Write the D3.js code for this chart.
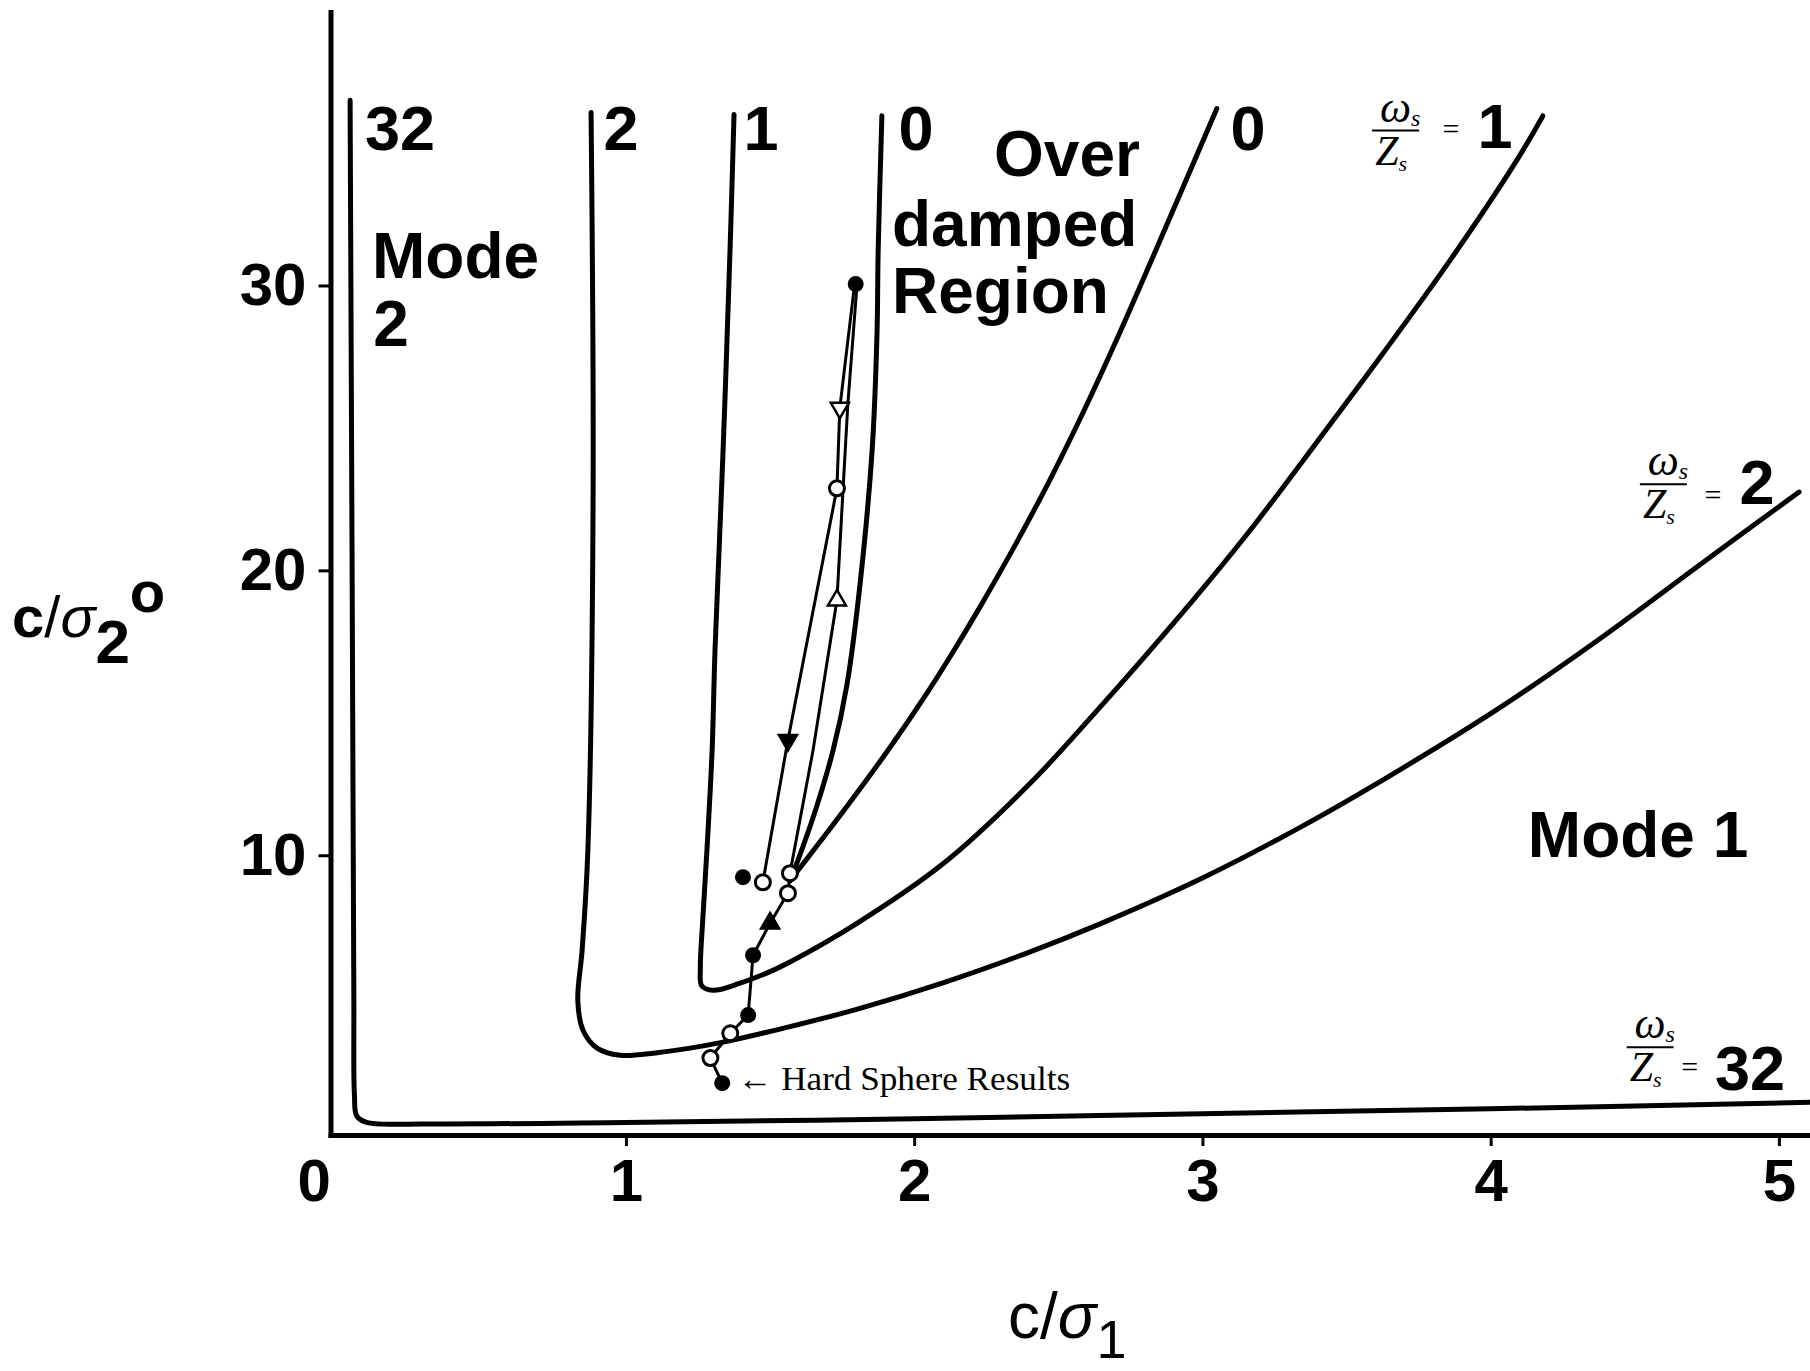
<!DOCTYPE html>
<html>
<head>
<meta charset="utf-8">
<script src="https://cdn.jsdelivr.net/npm/d3@7"></script>
<style>
  body { margin: 0; background: #fff; }
  svg { display: block; }
  text { font-family: "Liberation Sans", Arial, Helvetica, sans-serif; fill: #000; }
</style>
</head>
<body>
<svg id="chart" width="1810" height="1371"></svg>
<script>
// boundary curves, one for each omega_s/Z_s value  [c/sigma1, c/sigma2]
var curve32 = [[0.043, 36.5], [0.05, 20], [0.056, 5], [0.058, 1.6], [0.066, 0.85], [0.1, 0.62], [0.3, 0.57],
  [1.0, 0.62], [2.0, 0.75], [3.0, 0.93], [4.0, 1.1], [5.11, 1.33]];
var curve2 = [[0.879, 36.07], [0.886, 22.5], [0.868, 10.2], [0.848, 6.67], [0.833, 4.9], [0.851, 3.86], [0.90, 3.23],
  [0.98, 2.98], [1.108, 3.07], [1.222, 3.23], [1.337, 3.44], [1.559, 3.96], [1.8, 4.59], [2.1, 5.52], [2.4, 6.6],
  [2.645, 7.59], [3.0, 9.2], [3.339, 10.98], [3.685, 13.0], [4.032, 15.18], [4.379, 17.6], [4.726, 20.2], [5.07, 22.75]];
var curve1 = [[1.375, 36.0], [1.361, 31.2], [1.337, 24.2], [1.309, 17.2], [1.299, 13.7], [1.281, 10.18], [1.267, 7.82],
  [1.258, 6.0], [1.263, 5.42], [1.302, 5.26], [1.396, 5.51], [1.51, 5.96], [1.569, 6.25], [1.8, 7.6], [2.1, 9.7],
  [2.4, 12.5], [2.645, 15.2], [2.967, 18.95], [3.165, 21.4], [3.397, 24.5], [3.626, 27.61], [3.859, 30.88],
  [4.091, 34.4], [4.181, 35.95]];
var curve0Left = [[1.888, 35.96], [1.875, 31.2], [1.871, 28.3], [1.854, 24.2], [1.812, 19.5], [1.767, 16.0],
  [1.719, 13.7], [1.655, 11.5], [1.594, 9.75], [1.569, 9.1]];
var curve0Right = [[1.569, 9.1], [1.75, 11.49], [1.916, 13.78], [2.03, 15.47], [2.124, 16.96], [2.228, 18.71],
  [2.357, 21.01], [2.471, 23.18], [2.586, 25.54], [2.703, 28.11], [2.818, 30.76], [2.933, 33.46], [3.05, 36.21]];

// simulation tracks
var trackDown = [[1.794, 30.1], [1.742, 25.7], [1.732, 22.88], [1.562, 14.04], [1.475, 9.05]];
var trackUp = [[1.801, 29.93], [1.770, 25.86], [1.753, 22.81], [1.732, 18.95], [1.649, 13.68], [1.569, 9.37],
  [1.562, 8.67], [1.5, 7.61], [1.441, 6.49], [1.424, 4.39], [1.362, 3.75], [1.293, 2.88], [1.334, 2.0]];

var filledDots = [[1.797, 30.05], [1.406, 9.23], [1.441, 6.49], [1.424, 4.39], [1.334, 2.0]];
var openDots = [[1.732, 22.88], [1.475, 9.05], [1.569, 9.37], [1.562, 8.67], [1.362, 3.75], [1.293, 2.88]];
var triDownOpen = [[1.742, 25.7]];
var triDownFilled = [[1.562, 14.04]];
var triUpOpen = [[1.732, 18.95]];
var triUpFilled = [[1.5, 7.61]];

var xTicks = [0, 1, 2, 3, 4, 5];
var yTicks = [10, 20, 30];

// curve labels along the top, region labels
var topLabels = [["32", 0.216, 34.77], ["2", 0.983, 34.77], ["1", 1.469, 34.77], ["0", 2.006, 34.77], ["0", 3.158, 34.77]];
var regionLabels = [["Mode", 0.119, 30.25], ["2", 0.123, 27.89], ["Over", 2.277, 33.86], ["damped", 1.923, 31.4],
  ["Region", 1.923, 29.05], ["Mode 1", 4.129, 9.93]];
// omega_s/Z_s = n labels: fraction bar, "=" sign, number
var fracLabels = [
  {n: "1", bar: [3.672, 35.44], eq: [3.862, 35.51], num: [4.015, 34.84]},
  {n: "2", bar: [4.601, 23.02], eq: [4.771, 22.67], num: [4.924, 22.32]},
  {n: "32", bar: [4.555, 3.26], eq: [4.691, 2.6], num: [4.9, 1.75]}
];
var noteHardSphere = [1.386, 1.75, 2.541];

var svg = d3.select("#chart");
var x = d3.scaleLinear().domain([-0.025, 5.11]).range([330.5, 1810.6]);
var y = d3.scaleLinear().domain([0.18, 39.6]).range([1135, 12]);

// axes
var gx = svg.append("g")
  .attr("transform", "translate(0," + y(0.18) + ")")
  .call(d3.axisBottom(x).tickValues(xTicks).tickSize(11).tickSizeOuter(0).tickPadding(12).tickFormat(d3.format("d")));
var gy = svg.append("g")
  .attr("transform", "translate(" + x(-0.025) + ",0)")
  .call(d3.axisLeft(y).tickValues(yTicks).tickSize(12).tickSizeOuter(0).tickPadding(12));

[gx, gy].forEach(function(g) {
  g.select(".domain").attr("stroke", "#000").attr("stroke-width", 5).attr("stroke-linecap", "square");
  g.selectAll(".tick line").attr("stroke", "#000").attr("stroke-width", 3);
  g.selectAll(".tick text").style("font-size", "60px").style("font-weight", "bold")
    .style("font-family", "'Liberation Sans', Arial, sans-serif").attr("fill", "#000");
});
// the 0 label sits left of the corner, no tick mark there
gx.selectAll(".tick").filter(function(d) { return d === 0; })
  .call(function(t) { t.select("line").remove(); t.select("text").attr("x", -24); });

// curves
var line = d3.line().x(function(d) { return x(d[0]); }).y(function(d) { return y(d[1]); })
  .curve(d3.curveCatmullRom.alpha(0.5));
[curve32, curve2, curve1, curve0Left, curve0Right].forEach(function(c) {
  svg.append("path").attr("d", line(c)).attr("fill", "none").attr("stroke", "#000")
    .attr("stroke-width", 5).attr("stroke-linejoin", "round").attr("stroke-linecap", "round");
});

// tracks
var straight = d3.line().x(function(d) { return x(d[0]); }).y(function(d) { return y(d[1]); });
[trackDown, trackUp].forEach(function(t) {
  svg.append("path").attr("d", straight(t)).attr("fill", "none").attr("stroke", "#000").attr("stroke-width", 3);
});

svg.append("g").selectAll("circle").data(filledDots).enter().append("circle")
  .attr("cx", function(d) { return x(d[0]); }).attr("cy", function(d) { return y(d[1]); })
  .attr("r", 8).attr("fill", "#000");
svg.append("g").selectAll("circle").data(openDots).enter().append("circle")
  .attr("cx", function(d) { return x(d[0]); }).attr("cy", function(d) { return y(d[1]); })
  .attr("r", 7.5).attr("fill", "#fff").attr("stroke", "#000").attr("stroke-width", 3);

var tri = d3.symbol().type(d3.symbolTriangle).size(140);
function triangles(data, down, filled) {
  svg.append("g").selectAll("path").data(data).enter().append("path")
    .attr("d", tri)
    .attr("transform", function(d) { return "translate(" + x(d[0]) + "," + y(d[1]) + ")" + (down ? " rotate(180)" : ""); })
    .attr("fill", filled ? "#000" : "#fff").attr("stroke", "#000").attr("stroke-width", 2.5);
}
triangles(triDownOpen, true, false);
triangles(triDownFilled, true, true);
triangles(triUpOpen, false, false);
triangles(triUpFilled, false, true);

// labels
svg.append("g").selectAll("text").data(topLabels).enter().append("text")
  .attr("x", function(d) { return x(d[1]); }).attr("y", function(d) { return y(d[2]); })
  .attr("text-anchor", "middle").style("font-size", "63px").style("font-weight", "bold")
  .text(function(d) { return d[0]; });
svg.append("g").selectAll("text").data(regionLabels).enter().append("text")
  .attr("x", function(d) { return x(d[1]); }).attr("y", function(d) { return y(d[2]); })
  .style("font-size", "64px").style("font-weight", "bold")
  .text(function(d) { return d[0]; });

var hand = "'Liberation Serif', 'DejaVu Serif', serif";
fracLabels.forEach(function(f) {
  var g = svg.append("g").attr("transform", "translate(" + x(f.bar[0]) + "," + y(f.bar[1]) + ")");
  g.append("line").attr("x1", -24).attr("x2", 23).attr("stroke", "#000").attr("stroke-width", 2);
  var w = g.append("text").attr("x", 4).attr("y", -9).attr("text-anchor", "middle")
    .style("font-family", hand).style("font-style", "italic").style("font-size", "44px");
  w.append("tspan").text("ω");
  w.append("tspan").attr("dy", 4).style("font-size", "24px").text("s");
  var z = g.append("text").attr("x", -5).attr("y", 34).attr("text-anchor", "middle")
    .style("font-family", hand).style("font-style", "italic").style("font-size", "42px");
  z.append("tspan").text("Z");
  z.append("tspan").attr("dy", 6).style("font-size", "22px").text("s");
  svg.append("text").attr("x", x(f.eq[0])).attr("y", y(f.eq[1])).attr("dy", "0.35em")
    .attr("text-anchor", "middle").style("font-family", hand).style("font-size", "30px").text("=");
  svg.append("text").attr("x", x(f.num[0])).attr("y", y(f.num[1])).attr("text-anchor", "middle")
    .style("font-size", "63px").style("font-weight", "bold").text(f.n);
});

svg.append("text").attr("x", x(noteHardSphere[0])).attr("y", y(noteHardSphere[1]))
  .attr("textLength", x(noteHardSphere[2]) - x(noteHardSphere[0])).attr("lengthAdjust", "spacingAndGlyphs")
  .style("font-family", hand).style("font-size", "33px")
  .text("\u2190 Hard Sphere Results");

// axis titles
var yt = svg.append("text").attr("x", 12).attr("y", 637).style("font-size", "58px").style("font-weight", "bold");
yt.append("tspan").text("c");
yt.append("tspan").style("font-weight", "normal").text("/");
yt.append("tspan").style("font-weight", "normal").style("font-style", "italic").text("σ");
yt.append("tspan").attr("dy", 26).style("font-size", "62px").text("2");
yt.append("tspan").attr("dy", -51).text("o");

var xt = svg.append("text").attr("x", 1008).attr("y", 1338).style("font-size", "64px").attr("fill", "#222");
xt.append("tspan").text("c/");
xt.append("tspan").style("font-style", "italic").text("σ");
xt.append("tspan").attr("dy", 20).style("font-size", "54px").text("1");
</script>
</body>
</html>
